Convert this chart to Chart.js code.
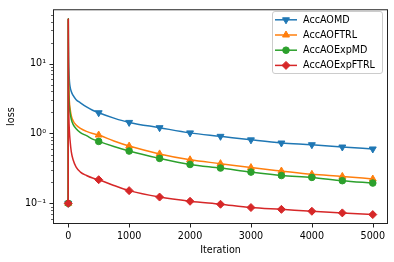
<!DOCTYPE html>
<html>
<head>
<meta charset="utf-8">
<script src="https://cdn.jsdelivr.net/npm/chart.js@4.4.0/dist/chart.umd.min.js"></script>
<style>
  html, body { margin: 0; padding: 0; background: #fff; }
  #wrap { width: 394px; height: 262px; }
</style>
</head>
<body>
<div id="wrap"><canvas id="lossChart" width="394" height="262"></canvas></div>
<script>
// values
const iterations = [0, 1, 3, 6, 10, 20, 30, 50, 80, 130, 200, 300, 400, 500, 750, 1000, 1500, 2000, 2500, 3000, 3500, 4000, 4500, 5000];
const accAOMD      = [0.1, 43, 20, 12, 8.5, 5.6, 4.7, 4.0, 3.5, 3.05, 2.75, 2.4, 2.15, 1.98, 1.66, 1.44, 1.21, 1.02, 0.91, 0.81, 0.73, 0.69, 0.64, 0.60];
const accAOFTRL    = [0.1, 43, 12, 6.5, 4.2, 2.8, 2.3, 1.8, 1.52, 1.32, 1.18, 1.07, 1.0, 0.95, 0.78, 0.66, 0.51, 0.42, 0.37, 0.325, 0.29, 0.26, 0.243, 0.223];
const accAOExpMD   = [0.1, 44, 10, 5.5, 3.6, 2.4, 2.0, 1.6, 1.35, 1.17, 1.03, 0.93, 0.83, 0.77, 0.65, 0.56, 0.44, 0.36, 0.32, 0.28, 0.25, 0.235, 0.211, 0.195];
const accAOExpFTRL = [0.1, 43, 6, 3, 1.8, 1.05, 0.8, 0.55, 0.42, 0.33, 0.28, 0.25, 0.23, 0.218, 0.18, 0.152, 0.123, 0.107, 0.097, 0.087, 0.082, 0.077, 0.073, 0.069];

const seriesNames = ['AccAOMD', 'AccAOFTRL', 'AccAOExpMD', 'AccAOExpFTRL'];
const xTicks = [0, 1000, 2000, 3000, 4000, 5000];
const yTicks = [0.1, 1, 10];
const yTickLabels = ['10\u207B\u00B9', '10\u2070', '10\u00B9'];
const yMinorTicks = [0.06, 0.07, 0.08, 0.09, 0.2, 0.3, 0.4, 0.5, 0.6, 0.7, 0.8, 0.9, 2, 3, 4, 5, 6, 7, 8, 9, 20, 30, 40, 50];

const colors = ['#1f77b4', '#ff7f0e', '#2ca02c', '#d62728'];
const markers = [
  { pointStyle: 'triangle', rotation: 180, radius: 4 },
  { pointStyle: 'triangle', rotation: 0, radius: 4 },
  { pointStyle: 'circle', rotation: 0, radius: 3.3 },
  { pointStyle: 'rectRot', rotation: 0, radius: 4 }
];
const FONT = 'DejaVu Sans';
const FS = 9.6;

Chart.defaults.font.family = FONT;
Chart.defaults.font.size = FS;
Chart.defaults.color = '#000';

const allSeries = [accAOMD, accAOFTRL, accAOExpMD, accAOExpFTRL];
const datasets = allSeries.map((vals, i) => ({
  label: seriesNames[i],
  data: iterations.map((x, j) => ({ x, y: vals[j] })),
  borderColor: colors[i],
  backgroundColor: colors[i],
  borderWidth: 1.5,
  cubicInterpolationMode: 'monotone',
  pointStyle: markers[i].pointStyle,
  rotation: markers[i].rotation,
  pointRadius: ctx => (ctx.raw && ctx.raw.x % 500 === 0 ? markers[i].radius : 0),
  pointBorderWidth: 1,
  order: 3 - i
}));

// frame, tick marks and legend in matplotlib style
const axesDecor = {
  id: 'axesDecor',
  afterDatasetsDraw(chart) {
    const { ctx, chartArea: a } = chart;
    const xs = chart.scales.x, ys = chart.scales.y;
    ctx.save();
    ctx.strokeStyle = '#222';
    ctx.lineWidth = 1;
    ctx.strokeRect(a.left + 0.5, a.top + 0.5, a.right - a.left - 1, a.bottom - a.top - 1);

    ctx.beginPath();
    xTicks.forEach(v => {
      const px = Math.round(xs.getPixelForValue(v)) + 0.5;
      ctx.moveTo(px, a.bottom); ctx.lineTo(px, a.bottom + 3.5);
    });
    yTicks.forEach(v => {
      const py = Math.round(ys.getPixelForValue(v)) + 0.5;
      ctx.moveTo(a.left, py); ctx.lineTo(a.left - 3.5, py);
    });
    ctx.stroke();
    ctx.lineWidth = 0.7;
    ctx.beginPath();
    yMinorTicks.forEach(v => {
      const py = Math.round(ys.getPixelForValue(v)) + 0.5;
      if (py < a.top || py > a.bottom) return;
      ctx.moveTo(a.left, py); ctx.lineTo(a.left - 2, py);
    });
    ctx.stroke();

    // legend
    const bx = 272.5, by = 11.5, bw = 110, bh = 62, r = 2.5;
    ctx.beginPath();
    ctx.moveTo(bx + r, by);
    ctx.arcTo(bx + bw, by, bx + bw, by + bh, r);
    ctx.arcTo(bx + bw, by + bh, bx, by + bh, r);
    ctx.arcTo(bx, by + bh, bx, by, r);
    ctx.arcTo(bx, by, bx + bw, by, r);
    ctx.closePath();
    ctx.fillStyle = 'rgba(255,255,255,0.8)';
    ctx.fill();
    ctx.strokeStyle = '#cccccc';
    ctx.lineWidth = 1;
    ctx.stroke();

    chart.data.datasets.forEach((ds, i) => {
      const y = 19.8 + i * 15.2;
      ctx.strokeStyle = ds.borderColor;
      ctx.fillStyle = ds.borderColor;
      ctx.lineWidth = 1.5;
      ctx.beginPath();
      ctx.moveTo(275, y); ctx.lineTo(297, y);
      ctx.stroke();
      ctx.lineWidth = 1;
      Chart.helpers.drawPoint(ctx, {
        pointStyle: markers[i].pointStyle,
        rotation: markers[i].rotation,
        radius: markers[i].radius,
        borderWidth: 1
      }, 286, y);
      ctx.fillStyle = '#000';
      ctx.font = FS + 'px "' + FONT + '"';
      ctx.textAlign = 'left';
      ctx.textBaseline = 'middle';
      ctx.fillText(ds.label, 303, y + 0.5);
    });
    ctx.restore();
  }
};

new Chart(document.getElementById('lossChart'), {
  type: 'line',
  data: { datasets },
  options: {
    responsive: false,
    animation: false,
    devicePixelRatio: 1,
    events: [],
    layout: { padding: { left: 0, right: 6, top: 6, bottom: 0 } },
    plugins: { legend: { display: false }, tooltip: { enabled: false } },
    scales: {
      x: {
        type: 'linear',
        min: -250,
        max: 5250,
        grid: { display: false, drawTicks: true, tickLength: 3.5 },
        border: { display: false },
        ticks: { padding: 3.5, maxRotation: 0, autoSkip: false, color: '#000', callback: v => String(v) },
        afterBuildTicks: s => { s.ticks = xTicks.map(v => ({ value: v })); },
        afterFit: s => { s.height = 38; },
        title: { display: true, text: 'Iteration', padding: { top: 0, bottom: 6 }, color: '#000' }
      },
      y: {
        type: 'logarithmic',
        min: 0.0506,
        max: 60,
        grid: { display: false, drawTicks: true, tickLength: 3.5 },
        border: { display: false },
        ticks: {
          padding: 3.5,
          autoSkip: false,
          color: '#000',
          callback: v => {
            const k = yTicks.findIndex(t => Math.abs(t - v) < t * 1e-6);
            return k >= 0 ? yTickLabels[k] : '';
          }
        },
        afterBuildTicks: s => { s.ticks = yTicks.map(v => ({ value: v })); },
        afterFit: s => { s.width = 53; },
        title: { display: true, text: 'loss', padding: { top: 6, bottom: 0 }, color: '#000' }
      }
    }
  },
  plugins: [axesDecor]
});
</script>
</body>
</html>
